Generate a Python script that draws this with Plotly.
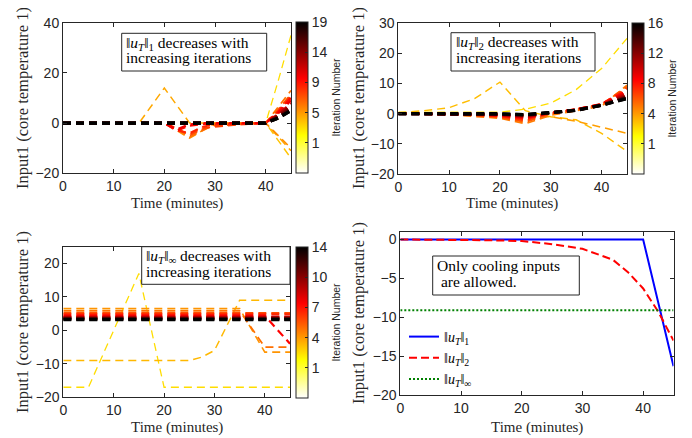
import numpy as np
import plotly.graph_objects as go
from plotly.colors import sample_colorscale

# the page body keeps its default 8px margin, so the figure is drawn 8px in
OFF = 8
W, H = 692 - OFF, 438 - OFF
SERIF = 'Liberation Serif, Times New Roman, serif'
SANS = 'Liberation Sans, Arial, sans-serif'
INK = '#262626'

# reversed "hot" colormap: white -> yellow -> red -> black
HOT_R = [[0, 'rgb(255,255,255)'], [0.25, 'rgb(255,255,0)'],
         [0.625, 'rgb(255,0,0)'], [1, 'rgb(0,0,0)']]
CBAR_POS = [0.2, 0.4, 0.6, 0.8, 1.0]

# ---- top left: 1-norm, 19 iterations
time_1 = [0, 5, 10, 15, 20, 22.5, 25, 27.5, 30, 35, 40, 42.5, 45]
cbar_ticks_1 = [1, 5, 9, 14, 19]
iters_1 = [
    [0, 0, 0, 0, 0, 0, 0, 0, 0, 0, 0, 17, 35],
    [0, 0, 0, 0, 0, 0, 0, 0, 0, 0, 0, -7, -14],
    [0, 0, 0, 0, 14, 7, 0, 0, 0, 0, 0, -5.5, -11],
    [0, 0, 0, 0, 0, -3, -6, -3, 0, 0, 0, -5, -10],
    [0, 0, 0, 0, 0, -2.5, -5.5, -3, -0.5, 0, 0, 6.5, 13],
    [0, 0, 0, 0, 0, -2, -5, -2.5, -1, -0.5, 0, 5.5, 11.5],
    [0, 0, 0, 0, 0, -2.5, -4.5, -2, -1.5, -0.5, 0, 5, 11],
    [0, 0, 0, 0, 0, -3, -4, -1.5, -0.5, -0.3, 0, 4.5, 10.5],
    [0, 0, 0, 0, 0, -3, -1, -0.5, 0, 0, 0, 4.5, 10],
    [0, 0, 0, 0, 0, -2.5, -0.5, 0, 0, 0, 0, 4, 9],
    [0, 0, 0, 0, 0, 0, 0, 0, 0, 0, 0, 3.5, 8],
    [0, 0, 0, 0, 0, 0, 0, 0, 0, 0, 0, 3.5, 7.5],
    [0, 0, 0, 0, 0, 0, 0, 0, 0, 0, 0, 3, 7],
    [0, 0, 0, 0, 0, 0, 0, 0, 0, 0, 0, 3, 6.5],
    [0, 0, 0, 0, 0, 0, 0, 0, 0, 0, 0, 2.5, 6],
    [0, 0, 0, 0, 0, 0, 0, 0, 0, 0, 0, 2.5, 5.5],
    [0, 0, 0, 0, 0, 0, 0, 0, 0, 0, 0, 2, 5.2],
    [0, 0, 0, 0, 0, 0, 0, 0, 0, 0, 0, 2, 5],
    [0, 0, 0, 0, 0, 0, 0, 0, 0, 0, 0, 2, 5],
]

# ---- top right: 2-norm, 16 iterations
time_2 = [0, 5, 10, 15, 20, 25, 30, 35, 40, 45]
cbar_ticks_2 = [1, 4, 8, 12, 16]
iters_2 = [
    [0.5, 0.5, 0.5, 0.5, 0.5, 1.5, 3.5, 8, 15, 25],
    [0.3, 1, 2, 5, 10.5, 1, -1, -2, -6.5, -12.5],
    [0, 0, 0, 0, 0, -0.5, -1, -2.5, -4.5, -6.5],
    [0, 0, -0.3, -0.8, -1.5, -3.3, -0.5, 1, 2.5, 9.5],
    [0, 0, -0.3, -0.6, -1.2, -2.8, 0, 1.5, 3, 9],
    [0, 0, -0.2, -0.5, -1, -2.3, 0.2, 1.5, 3.2, 8.5],
    [0, 0, -0.2, -0.4, -0.8, -1.8, 0.3, 1.5, 3.3, 8],
    [0, 0, -0.1, -0.3, -0.6, -1.5, 0.3, 1.4, 3.2, 7.5],
    [0, 0, -0.1, -0.2, -0.5, -1.2, 0.3, 1.4, 3.1, 7],
    [0, 0, 0, -0.2, -0.4, -1, 0.3, 1.3, 3, 6.5],
    [0, 0, 0, -0.1, -0.3, -0.8, 0.3, 1.3, 3, 6],
    [0, 0, 0, -0.1, -0.2, -0.6, 0.3, 1.2, 2.9, 5.7],
    [0, 0, 0, 0, -0.2, -0.5, 0.3, 1.2, 2.9, 5.5],
    [0, 0, 0, 0, -0.1, -0.4, 0.3, 1.2, 2.8, 5.3],
    [0, 0, 0, 0, -0.1, -0.3, 0.3, 1.1, 2.8, 5.1],
    [0, 0, 0, 0, 0, -0.3, 0.3, 1.1, 2.8, 5],
]

# ---- bottom left: inf-norm, 14 iterations
time_3 = [0, 5, 10, 15, 20, 25, 27.5, 30, 35, 40, 45]
cbar_ticks_3 = [1, 4, 7, 10, 14]
iters_3 = [
    [-17, -17, 0, 17, -17, -17, -17, -17, -17, -17, -17],
    [-9, -9, -9, -9, -9, -9, -8, -6, 9, 9, 9],
    [6.5, 6.5, 6.5, 6.5, 6.5, 6.5, 6.5, 6.5, 6.5, -6.5, -6.5],
    [5.8, 5.8, 5.8, 5.8, 5.8, 5.8, 5.8, 5.8, 5.8, -5, -5],
    [5.2, 5.2, 5.2, 5.2, 5.2, 5.2, 5.2, 5.2, 5.2, 5.2, 5.2],
    [4.8, 4.8, 4.8, 4.8, 4.8, 4.8, 4.8, 4.8, 4.8, 4.8, 4.8],
    [4.4, 4.4, 4.4, 4.4, 4.4, 4.4, 4.4, 4.4, 4.4, 4.4, -4],
    [4.1, 4.1, 4.1, 4.1, 4.1, 4.1, 4.1, 4.1, 4.1, 4.1, 4.1],
    [3.9, 3.9, 3.9, 3.9, 3.9, 3.9, 3.9, 3.9, 3.9, 3.9, 3.9],
    [3.7, 3.7, 3.7, 3.7, 3.7, 3.7, 3.7, 3.7, 3.7, 3.7, 3.7],
    [3.5, 3.5, 3.5, 3.5, 3.5, 3.5, 3.5, 3.5, 3.5, 3.5, 3.5],
    [3.4, 3.4, 3.4, 3.4, 3.4, 3.4, 3.4, 3.4, 3.4, 3.4, 3.4],
    [3.3, 3.3, 3.3, 3.3, 3.3, 3.3, 3.3, 3.3, 3.3, 3.3, 3.3],
    [3.2, 3.2, 3.2, 3.2, 3.2, 3.2, 3.2, 3.2, 3.2, 3.2, 3.2],
]

# ---- bottom right: final inputs per norm
time_l1 = [0, 40, 45]
u_l1 = [0, 0, -16.3]
time_l2 = [0, 5, 10, 15, 20, 25, 30, 35, 37.5, 40, 42.5, 45]
u_l2 = [0, -0.02, -0.05, -0.1, -0.2, -0.6, -1.2, -2.6, -4.2, -6.3, -9.3, -13]
time_linf = [0, 45]
u_linf = [-9.1, -9.1]

NORM_1 = '‖<i>u</i><sub><i>T</i></sub>‖<sub>1</sub>'
NORM_2 = '‖<i>u</i><sub><i>T</i></sub>‖<sub>2</sub>'
NORM_INF = '‖<i>u</i><sub><i>T</i></sub>‖<sub>∞</sub>'


def px(x):
    return (x - OFF) / W


def py(y):
    return 1 - (y - OFF) / H


fig = go.Figure()


def add_iterations(times, iters, ax, ticks, cb_left, cb_top, cb_bottom):
    xa, ya = 'x' + ax, 'y' + ax
    n = len(iters)
    for k, vals in enumerate(iters):
        f = 0.3 + 0.7 * k / (n - 1)
        col = sample_colorscale(HOT_R, f)[0]
        w = 1.3 + 1.9 * k / (n - 1)
        fig.add_trace(go.Scatter(
            x=times, y=vals, mode='lines', xaxis=xa, yaxis=ya,
            line=dict(color=col, width=w, dash='8px,5px'),
            showlegend=False, hoverinfo='skip'))
    fig.add_trace(go.Scatter(
        x=[None, None], y=[None, None], mode='markers', xaxis=xa, yaxis=ya,
        showlegend=False, hoverinfo='skip',
        marker=dict(color=[0, 1], colorscale=HOT_R, cmin=0, cmax=1, showscale=True,
                    colorbar=dict(x=px(cb_left), xanchor='left', y=py(cb_bottom), yanchor='bottom',
                                  len=(cb_bottom - cb_top) / H, lenmode='fraction',
                                  thickness=12, thicknessmode='pixels', xpad=0, ypad=0,
                                  outlinewidth=1, outlinecolor=INK,
                                  tickvals=CBAR_POS, ticktext=[str(t) for t in ticks],
                                  ticks='inside', ticklen=3, tickcolor=INK,
                                  tickfont=dict(family=SANS, size=14, color=INK),
                                  title=dict(text='Iteration Number', side='right',
                                             font=dict(family=SANS, size=10.5, color=INK))))))


add_iterations(time_1, iters_1, '', cbar_ticks_1, 296, 21.7, 173)
add_iterations(time_2, iters_2, '2', cbar_ticks_2, 632, 23, 174)
add_iterations(time_3, iters_3, '3', cbar_ticks_3, 296, 246.7, 398)

fig.add_trace(go.Scatter(x=time_l1, y=u_l1, mode='lines', name=NORM_1, xaxis='x4', yaxis='y4',
                         line=dict(color='rgb(0,0,255)', width=2)))
fig.add_trace(go.Scatter(x=time_l2, y=u_l2, mode='lines', name=NORM_2, xaxis='x4', yaxis='y4',
                         line=dict(color='rgb(255,0,0)', width=2, dash='8px,4px')))
fig.add_trace(go.Scatter(x=time_linf, y=u_linf, mode='lines', name=NORM_INF, xaxis='x4', yaxis='y4',
                         line=dict(color='rgb(0,128,0)', width=2, dash='2px,2px')))


def xaxis(left, right, anchor):
    return dict(domain=[px(left), px(right)], anchor=anchor, range=[0, 45],
                tickvals=[0, 10, 20, 30, 40], showgrid=False, zeroline=False,
                showline=True, linecolor=INK, linewidth=1, mirror='ticks',
                ticks='inside', ticklen=4, tickcolor=INK,
                tickfont=dict(family=SANS, size=14, color=INK))


def yaxis(top, bottom, anchor, rng, vals):
    return dict(domain=[py(bottom), py(top)], anchor=anchor, range=rng,
                tickvals=vals, showgrid=False, zeroline=False,
                showline=True, linecolor=INK, linewidth=1, mirror='ticks',
                ticks='inside', ticklen=4, tickcolor=INK,
                tickfont=dict(family=SANS, size=14, color=INK))


fig.update_layout(
    width=W, height=H, margin=dict(l=0, r=0, t=0, b=0, autoexpand=False),
    paper_bgcolor='white', plot_bgcolor='white',
    xaxis=xaxis(63, 291, 'y'),
    yaxis=yaxis(22.7, 173.3, 'x', [-20, 40], [-20, 0, 20, 40]),
    xaxis2=xaxis(398.3, 627, 'y2'),
    yaxis2=yaxis(23.3, 174, 'x2', [-20, 30], [-20, -10, 0, 10, 20, 30]),
    xaxis3=xaxis(63.3, 290, 'y3'),
    yaxis3=yaxis(246.7, 397.3, 'x3', [-20, 25], [-20, -10, 0, 10, 20]),
    xaxis4=xaxis(400.3, 673.5, 'y4'),
    yaxis4=yaxis(231.7, 395, 'x4', [-20, 1], [-20, -15, -10, -5, 0]),
    legend=dict(x=px(404), y=py(321), xanchor='left', yanchor='top',
                bgcolor='rgba(0,0,0,0)', borderwidth=0, tracegroupgap=0,
                itemwidth=30, font=dict(family=SERIF, size=14, color='black')),
)

# axis titles
for xc, yc in [(177, 204), (512, 204), (177, 427), (537, 427)]:
    fig.add_annotation(xref='paper', yref='paper', x=px(xc), y=py(yc), text='Time (minutes)',
                       showarrow=False, xanchor='center', yanchor='middle',
                       font=dict(family=SERIF, size=15, color=INK))
for xc, yc in [(22, 98), (358, 98), (22, 322), (358, 313)]:
    fig.add_annotation(xref='paper', yref='paper', x=px(xc), y=py(yc),
                       text='Input1 (core temperature 1)', textangle=-90,
                       showarrow=False, xanchor='center', yanchor='middle',
                       font=dict(family=SERIF, size=16.5, color=INK))

# text boxes: outline rectangle, then one annotation per text line
boxes = [
    ((121.7, 33.3, 266.7, 71), [(43, NORM_1 + ' decreases with'), (58, 'increasing iterations')]),
    ((451, 32.7, 595, 71), [(42.5, NORM_2 + ' decreases with'), (57.5, 'increasing iterations')]),
    ((141.7, 246.7, 290, 284.3), [(256, NORM_INF + ' decreases with'), (271.5, 'increasing iterations')]),
    ((432.7, 256, 579.3, 295), [(265, 'Only cooling inputs'), (281, '\u00a0are allowed.')]),
]
for (x0, y0, x1, y1), lines in boxes:
    fig.add_shape(type='rect', xref='paper', yref='paper', layer='above',
                  x0=px(x0), x1=px(x1), y0=py(y1), y1=py(y0),
                  line=dict(color=INK, width=1), fillcolor='white')
    for yc, txt in lines:
        fig.add_annotation(xref='paper', yref='paper', x=px(x0 + 2.5), y=py(yc), text=txt,
                           showarrow=False, xanchor='left', yanchor='middle', align='left',
                           font=dict(family=SERIF, size=15.5, color='black'))

fig.write_html("out.html")
